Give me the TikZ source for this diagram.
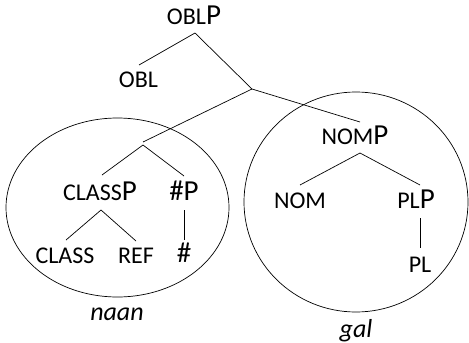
\documentclass[tikz,border=0pt]{standalone}
\usepackage{fontspec}
\setmainfont{Carlito}
\newcommand\smcp[1]{{\fontsize{24}{24}\selectfont #1}}
\tikzset{
  lab/.style={anchor=base, inner sep=0pt, font=\fontsize{29}{29}\selectfont},
  itlab/.style={anchor=base, inner sep=0pt, font=\fontsize{26}{26}\selectfont\itshape},
  branch/.style={line width=0.7pt},
  region/.style={line width=0.7pt}
}
\begin{document}
\begin{tikzpicture}[x=1pt,y=-1pt]
\useasboundingbox (0,0) rectangle (469,343);
% regions
\draw[region] (117.5,207.5) ellipse [x radius=111.5, y radius=89.5];
\draw[region] (356,202) ellipse [x radius=112, y radius=110];
% labels
\node[lab] (oblp) at (194,24) {\smcp{OBL}P};
\node[lab] (obl) at (138.5,87) {\smcp{OBL}};
\node[lab] (classp) at (100,200) {\smcp{CLASS}P};
\node[lab] (nump) at (184,200) {\#P};
\node[lab] (class) at (65,263) {\smcp{CLASS}};
\node[lab] (ref) at (136,263) {\smcp{REF}};
\node[lab] (num) at (184,262) {\#};
\node[lab] (nomp) at (355,144) {\smcp{NOM}P};
\node[lab] (nom) at (300,208) {\smcp{NOM}};
\node[lab] (plp) at (416,208) {\smcp{PL}P};
\node[lab] (pl) at (420,272) {\smcp{PL}};
\node[itlab] (naan) at (117,320) {naan};
\node[itlab] (gal) at (356,337) {gal};
% branch points
\coordinate (oblp-b) at (195,33);
\coordinate (obl-t) at (139,65);
\coordinate (j1) at (252,89);
\coordinate (j2-in) at (143,142);
\coordinate (j2) at (143,145);
\coordinate (nomp-t) at (360,122);
\coordinate (classp-t) at (102,175);
\coordinate (nump-t) at (184,176);
\coordinate (classp-b) at (101,210);
\coordinate (class-t) at (66,240);
\coordinate (ref-t) at (136,241);
\coordinate (nump-b) at (184,210);
\coordinate (num-t) at (184,240);
\coordinate (nomp-b) at (360,153);
\coordinate (nom-t) at (300,185);
\coordinate (plp-t) at (420,185);
\coordinate (plp-b) at (420,218);
\coordinate (pl-t) at (420,248);
% branches
\draw[branch] (obl-t) -- (oblp-b) -- (j1);
\draw[branch] (j2-in) -- (j1) -- (nomp-t);
\draw[branch] (classp-t) -- (j2) -- (nump-t);
\draw[branch] (class-t) -- (classp-b) -- (ref-t);
\draw[branch] (nump-b) -- (num-t);
\draw[branch] (nom-t) -- (nomp-b) -- (plp-t);
\draw[branch] (plp-b) -- (pl-t);
\end{tikzpicture}
\end{document}
